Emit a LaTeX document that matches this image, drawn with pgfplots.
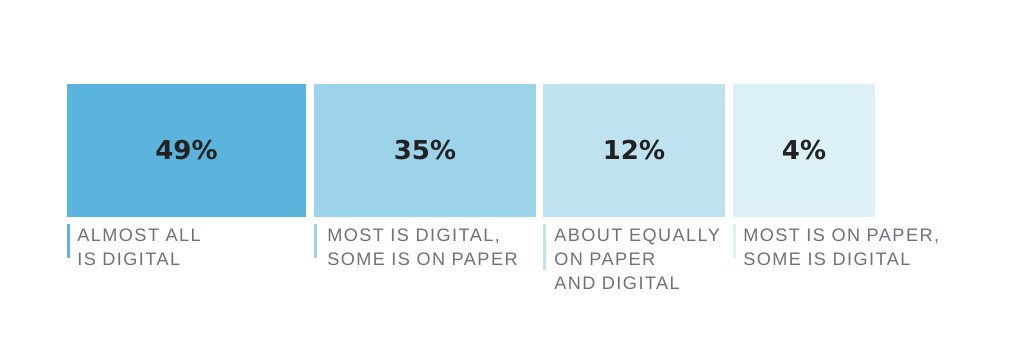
\documentclass[border=0pt]{standalone}
\usepackage{pgfplots}
\pgfplotsset{compat=1.18}
\usepackage{fontspec}
\setmainfont{Liberation Sans}
\newfontfamily\labfont[LetterSpace=8]{Liberation Sans}
\newfontfamily\pctfont{DejaVu Sans}
\definecolor{cA}{RGB}{90,180,220}
\definecolor{cB}{RGB}{157,211,234}
\definecolor{cC}{RGB}{190,226,240}
\definecolor{cD}{RGB}{220,240,248}
\definecolor{labgray}{RGB}{108,114,121}
\definecolor{pctdark}{RGB}{34,34,34}
\begin{document}
\begin{tikzpicture}
\begin{axis}[
  width=768pt, height=271.5pt, scale only axis,
  xmin=0, xmax=1024, ymin=0, ymax=362, y dir=reverse,
  hide axis, clip=false,
]
\path (rel axis cs:0,0) rectangle (rel axis cs:1,1);
% boxes (pixel extents)
\addplot[fill=cA, draw=none] coordinates {(67,84)(306,84)(306,217)(67,217)} -- cycle;
\addplot[fill=cB, draw=none] coordinates {(314,84)(536,84)(536,217)(314,217)} -- cycle;
\addplot[fill=cC, draw=none] coordinates {(543,84)(725,84)(725,217)(543,217)} -- cycle;
\addplot[fill=cD, draw=none] coordinates {(733,84)(875,84)(875,217)(733,217)} -- cycle;
% label marker bars
\addplot[cA, line width=2.4pt] coordinates {(68.5,224)(68.5,258)};
\addplot[cB, line width=2.4pt] coordinates {(315.5,224)(315.5,258)};
\addplot[cC, line width=2.4pt] coordinates {(544.5,224)(544.5,270)};
\addplot[cD, line width=2.4pt] coordinates {(734.5,224)(734.5,258)};
% percentages
\tikzset{pct/.style={pctdark, font=\pctfont\bfseries\fontsize{19.5pt}{22pt}\selectfont, anchor=center, inner sep=0pt}}
\node[pct] at (axis cs:186.5,150.5) {49\%};
\node[pct] at (axis cs:425,150.5) {35\%};
\node[pct] at (axis cs:634,150.5) {12\%};
\node[pct] at (axis cs:804,150.5) {4\%};
% category labels
\tikzset{lab/.style={labgray, font=\labfont\fontsize{13.6pt}{18pt}\selectfont, anchor=base west, inner sep=0pt}}
\node[lab] at (axis cs:77,241) {ALMOST ALL};
\node[lab] at (axis cs:77,265) {IS DIGITAL};
\node[lab] at (axis cs:327,241) {MOST IS DIGITAL,};
\node[lab] at (axis cs:327,265) {SOME IS ON PAPER};
\node[lab] at (axis cs:554,241) {ABOUT EQUALLY};
\node[lab] at (axis cs:554,265) {ON PAPER};
\node[lab] at (axis cs:554,289) {AND DIGITAL};
\node[lab] at (axis cs:743,241) {MOST IS ON PAPER,};
\node[lab] at (axis cs:743,265) {SOME IS DIGITAL};
\end{axis}
\end{tikzpicture}
\end{document}
